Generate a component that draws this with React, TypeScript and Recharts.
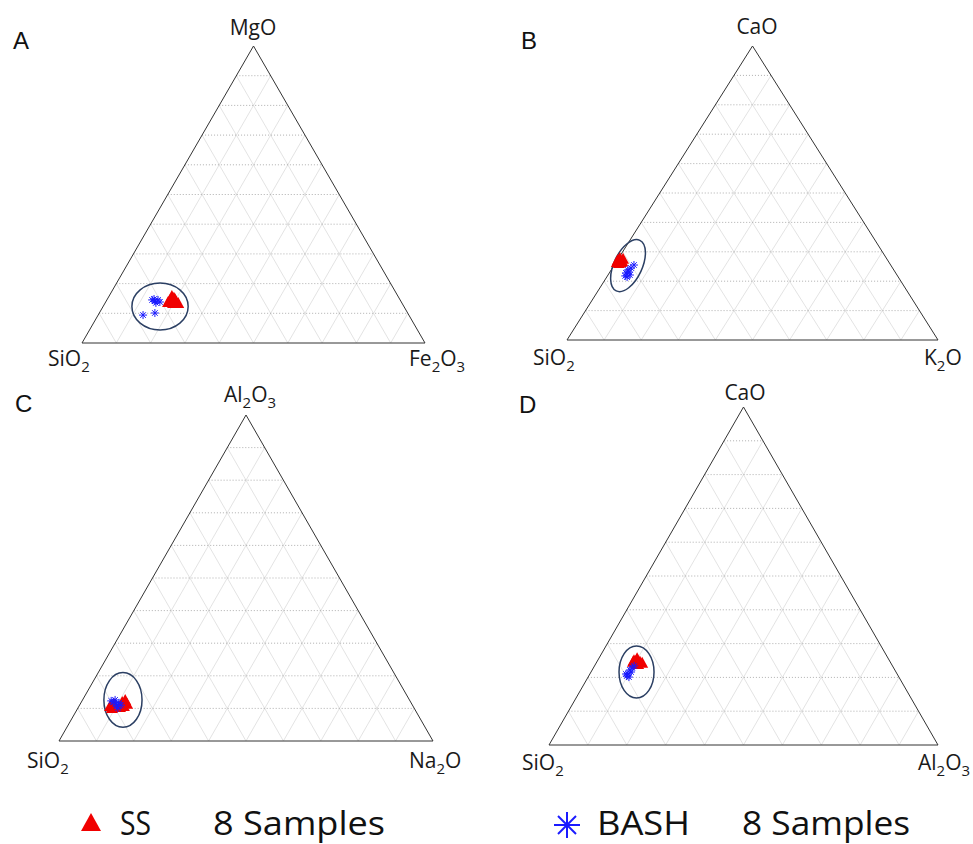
import React from 'react'
import { ScatterChart, Scatter, XAxis, YAxis, ReferenceLine } from 'recharts'

// grid every 10 %
const gridSteps = [10, 20, 30, 40, 50, 60, 70, 80, 90]

// every sample is [top oxide %, right oxide %]; SiO2 is the rest
const ssA = [[14.5, 18.4], [15.2, 19.2], [14.1, 20.3], [15.8, 18.3], [13.8, 18.2], [13.5, 21.3], [13.5, 19.8], [14.8, 19.7]]
const bashA = [[14.5, 13.2], [14.1, 14.2], [14.5, 14.9], [13.8, 15.8], [13.5, 14.8], [14.8, 13.6], [10.1, 16.2], [9.4, 13.1]]

const ssB = [[27.2, 0.1], [27.9, 0.3], [26.9, 1.4], [26.2, 0.9], [26.5, 1.3], [26.5, 0.2], [27.6, 1.3], [26.9, 0.9]]
const bashB = [[22.8, 4.5], [23.8, 4.5], [22.1, 5.9], [21.4, 5.5], [24.5, 5.0], [25.5, 5.3], [23.1, 5.2], [21.8, 4.8]]

const ssC = [[10.7, 8.3], [11.4, 9.0], [12.0, 10.9], [12.6, 11.4], [11.4, 12.5], [10.1, 9.1], [10.4, 11.1], [10.7, 12.0]]
const bashC = [[12.0, 8.5], [11.4, 9.6], [11.7, 10.2], [10.7, 10.1], [11.0, 11.1], [12.6, 8.7], [10.1, 10.7], [12.3, 7.8]]

const ssD = [[25.1, 9.3], [25.7, 9.8], [24.6, 11.1], [24.3, 10.0], [24.0, 10.9], [24.3, 11.8], [24.6, 9.3], [24.9, 9.9]]
const bashD = [[22.2, 9.7], [21.0, 9.8], [22.8, 10.0], [20.4, 9.8], [21.6, 10.3], [23.4, 10.2], [20.1, 10.5], [21.0, 9.3]]

const PAD = 10
const RED = '#f00000'
const BLUE = '#1a1aff'

const toXY = (p: number[]) => ({ x: p[1] + p[0] / 2, y: p[0] })

type Panel = {
  id: string
  left: number
  top: number
  w: number
  h: number
  ss: number[][]
  bash: number[][]
  ring: { top: number; right: number; rx: number; ry: number; angle: number }
}

const panels: Panel[] = [
  { id: 'A', left: 82, top: 46, w: 343, h: 297, ss: ssA, bash: bashA, ring: { top: 12.3, right: 16.6, rx: 8.2, ry: 7.9, angle: 0 } },
  { id: 'B', left: 567, top: 46, w: 371, h: 294, ss: ssB, bash: bashB, ring: { top: 25.3, right: 3.8, rx: 3.8, ry: 9.5, angle: 25 } },
  { id: 'C', left: 59, top: 415, w: 374, h: 326, ss: ssC, bash: bashC, ring: { top: 12.6, right: 10.8, rx: 5.1, ry: 8.4, angle: 0 } },
  { id: 'D', left: 549, top: 407, w: 389, h: 338, ss: ssD, bash: bashD, ring: { top: 21.6, right: 11.7, rx: 4.5, ry: 7.7, angle: 0 } },
]

const Tri = (props: any) => {
  const { cx, cy } = props
  return <polygon points={`${cx},${cy - 6} ${cx - 6},${cy + 5} ${cx + 6},${cy + 5}`} fill={RED} />
}

const Star = (props: any) => {
  const { cx, cy } = props
  const r = 4
  const d = r * 0.7
  return (
    <g stroke={BLUE} strokeWidth={1}>
      <line x1={cx - r} y1={cy} x2={cx + r} y2={cy} />
      <line x1={cx} y1={cy - r} x2={cx} y2={cy + r} />
      <line x1={cx - d} y1={cy - d} x2={cx + d} y2={cy + d} />
      <line x1={cx - d} y1={cy + d} x2={cx + d} y2={cy - d} />
    </g>
  )
}

function Ternary({ p }: { p: Panel }) {
  const ringData = [{ ...toXY([p.ring.top, p.ring.right]) }]
  const Ring = (props: any) => {
    const { cx, cy } = props
    const rx = (p.ring.rx / 100) * p.w
    const ry = (p.ring.ry / 100) * p.h
    return (
      <ellipse cx={cx} cy={cy} rx={rx} ry={ry} fill="none" stroke="#2b3f63" strokeWidth={1.5}
        transform={`rotate(${p.ring.angle} ${cx} ${cy})`} />
    )
  }
  return (
    <div style={{ position: 'absolute', left: p.left - PAD, top: p.top - PAD }}>
      <ScatterChart width={p.w + PAD * 2} height={p.h + PAD * 2} margin={{ top: PAD, right: PAD, bottom: PAD, left: PAD }}>
        <XAxis type="number" dataKey="x" domain={[0, 100]} hide />
        <YAxis type="number" dataKey="y" domain={[0, 100]} hide />
        {gridSteps.map(k => (
          <ReferenceLine key={'b' + k} ifOverflow="visible" stroke="#dcdcdc" strokeWidth={0.8}
            segment={[{ x: k, y: 0 }, { x: k + (100 - k) / 2, y: 100 - k }]} />
        ))}
        {gridSteps.map(k => (
          <ReferenceLine key={'a' + k} ifOverflow="visible" stroke="#dcdcdc" strokeWidth={0.8}
            segment={[{ x: 100 - k, y: 0 }, { x: (100 - k) / 2, y: 100 - k }]} />
        ))}
        {gridSteps.map(k => (
          <ReferenceLine key={'c' + k} ifOverflow="visible" stroke="#9a9a9a" strokeWidth={0.8} strokeDasharray="1 2"
            segment={[{ x: k / 2, y: k }, { x: 100 - k / 2, y: k }]} />
        ))}
        <ReferenceLine ifOverflow="visible" stroke="#333" segment={[{ x: 0, y: 0 }, { x: 100, y: 0 }]} />
        <ReferenceLine ifOverflow="visible" stroke="#333" segment={[{ x: 0, y: 0 }, { x: 50, y: 100 }]} />
        <ReferenceLine ifOverflow="visible" stroke="#333" segment={[{ x: 100, y: 0 }, { x: 50, y: 100 }]} />
        <Scatter data={ringData} shape={Ring} isAnimationActive={false} />
        <Scatter data={p.ss.map(toXY)} shape={Tri} isAnimationActive={false} />
        <Scatter data={p.bash.map(toXY)} shape={Star} isAnimationActive={false} />
      </ScatterChart>
    </div>
  )
}

// digits become subscripts
function Chem({ x, y, text, anchor = 'start' }: { x: number; y: number; text: string; anchor?: string }) {
  const parts = text.match(/[0-9]+|[^0-9]+/g) || []
  let sub = false
  return (
    <text x={x} y={y} textAnchor={anchor as any} fontFamily="'Open Sans', sans-serif" fontSize={21} fill="#1a1a1a">
      {parts.map((s, i) => {
        const isNum = /^[0-9]+$/.test(s)
        const dy = isNum && !sub ? 6 : !isNum && sub ? -6 : 0
        sub = isNum
        return <tspan key={i} dy={dy} fontSize={isNum ? 15 : 21}>{s}</tspan>
      })}
    </text>
  )
}

const letterStyle = { fontFamily: "'Liberation Sans', Arial, sans-serif", fontSize: 24, fill: '#111' }
const legendFont = "'Open Sans', sans-serif"

export default function App() {
  return (
    <div style={{ position: 'absolute', left: 0, top: 0, width: 973, height: 844, background: '#fff', overflow: 'hidden' }}>
      {panels.map(p => <Ternary key={p.id} p={p} />)}
      <svg width={973} height={844} style={{ position: 'absolute', left: 0, top: 0, pointerEvents: 'none' }}>
        <text x={13} y={49} {...letterStyle}>A</text>
        <text x={521} y={49} {...letterStyle}>B</text>
        <text x={15} y={412} {...letterStyle}>C</text>
        <text x={519} y={413} {...letterStyle}>D</text>

        <Chem x={253} y={35} text="MgO" anchor="middle" />
        <Chem x={48} y={366} text="SiO2" />
        <Chem x={409} y={366} text="Fe2O3" />

        <Chem x={757} y={34} text="CaO" anchor="middle" />
        <Chem x={533} y={365} text="SiO2" />
        <Chem x={924} y={365} text="K2O" />

        <Chem x={250} y={402} text="Al2O3" anchor="middle" />
        <Chem x={27} y={768} text="SiO2" />
        <Chem x={409} y={768} text="Na2O" />

        <Chem x={745} y={400} text="CaO" anchor="middle" />
        <Chem x={522} y={770} text="SiO2" />
        <Chem x={918} y={770} text="Al2O3" />

        <polygon points="91,813 81,831 101,831" fill={RED} />
        <text x={120} y={835} fontFamily={legendFont} fontSize={32} fill="#111" textLength={31} lengthAdjust="spacingAndGlyphs">SS</text>
        <text x={213} y={835} fontFamily={legendFont} fontSize={32} fill="#111" textLength={172} lengthAdjust="spacingAndGlyphs">8 Samples</text>

        <g stroke={BLUE} strokeWidth={2}>
          <line x1={554} y1={825} x2={580} y2={825} />
          <line x1={567} y1={812} x2={567} y2={838} />
          <line x1={558} y1={816} x2={576} y2={834} />
          <line x1={558} y1={834} x2={576} y2={816} />
        </g>
        <text x={597} y={835} fontFamily={legendFont} fontSize={32} fill="#111" textLength={93} lengthAdjust="spacingAndGlyphs">BASH</text>
        <text x={742} y={835} fontFamily={legendFont} fontSize={32} fill="#111" textLength={168} lengthAdjust="spacingAndGlyphs">8 Samples</text>
      </svg>
    </div>
  )
}
